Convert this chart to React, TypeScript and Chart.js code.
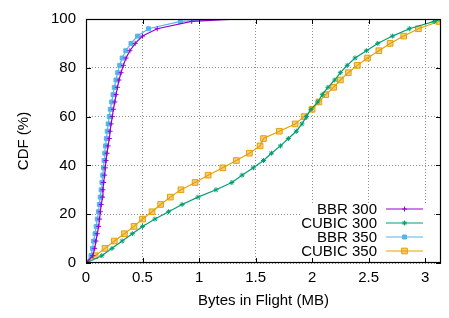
import React, { useEffect, useRef } from 'react';
import { Chart, registerables } from 'chart.js';

Chart.register(...registerables);

// CDF levels (%) shared by every series
const cdfLevels = [0, 3, 6, 9, 12, 15, 18, 21, 24, 27, 30, 33, 36, 39, 42, 45, 48, 51, 54, 57, 60, 63, 66, 69, 72, 75, 78, 81, 84, 87, 90, 93, 96, 99, 100];

// Bytes in flight (MB) at each CDF level
const bbr300 = [0, 0.06, 0.077, 0.088, 0.1, 0.112, 0.12, 0.127, 0.135, 0.147, 0.15, 0.156, 0.165, 0.171, 0.177, 0.186, 0.195, 0.206, 0.213, 0.222, 0.233, 0.242, 0.255, 0.266, 0.278, 0.292, 0.31, 0.33, 0.354, 0.388, 0.435, 0.5, 0.63, 0.935, 1.35];
const cubic300 = [0, 0.14, 0.23, 0.32, 0.41, 0.5, 0.61, 0.73, 0.85, 0.99, 1.15, 1.29, 1.38, 1.48, 1.57, 1.64, 1.72, 1.79, 1.86, 1.91, 1.95, 1.99, 2.05, 2.09, 2.14, 2.2, 2.25, 2.31, 2.38, 2.48, 2.58, 2.71, 2.86, 3.08, 3.14];
const bbr350 = [0, 0.044, 0.058, 0.067, 0.08, 0.09, 0.1, 0.11, 0.118, 0.126, 0.134, 0.141, 0.148, 0.155, 0.16, 0.166, 0.172, 0.18, 0.188, 0.196, 0.206, 0.215, 0.227, 0.239, 0.25, 0.265, 0.28, 0.298, 0.32, 0.352, 0.398, 0.456, 0.553, 0.835, 1.25];
const cubic350 = [0, 0.08, 0.168, 0.25, 0.34, 0.425, 0.5, 0.584, 0.66, 0.746, 0.84, 0.965, 1.08, 1.21, 1.33, 1.445, 1.54, 1.57, 1.71, 1.85, 1.93, 2.0, 2.06, 2.12, 2.19, 2.25, 2.32, 2.4, 2.49, 2.59, 2.69, 2.81, 2.94, 3.12, 3.14];

const seriesNames = ['BBR 300', 'CUBIC 300', 'BBR 350', 'CUBIC 350'];
const xTickValues = [0, 0.5, 1, 1.5, 2, 2.5, 3];
const yTickValues = [0, 20, 40, 60, 80, 100];
const xMax = 3.14;

const FONT = '"Liberation Sans", Arial, Helvetica, sans-serif';
const FS = 15;

type MarkerStyle = { shape: string; r: number; color: string; fill: string };

const markerStyles: MarkerStyle[] = [
  { shape: 'cross', r: 2.5, color: '#9400D3', fill: '#9400D3' },
  { shape: 'star', r: 2.5, color: '#009E73', fill: '#009E73' },
  { shape: 'rect', r: 2.8, color: '#56B4E9', fill: '#56B4E9' },
  { shape: 'rect', r: 4.0, color: '#E69F00', fill: 'rgba(230,159,0,0.5)' },
];

function drawMarker(ctx: CanvasRenderingContext2D, m: MarkerStyle, x: number, y: number) {
  ctx.save();
  ctx.strokeStyle = m.color;
  ctx.fillStyle = m.fill;
  ctx.lineWidth = 1;
  ctx.beginPath();
  if (m.shape === 'rect') {
    const s = m.r * Math.SQRT1_2;
    ctx.rect(x - s, y - s, 2 * s, 2 * s);
    ctx.fill();
    ctx.stroke();
  } else if (m.shape === 'cross') {
    ctx.moveTo(x - m.r, y);
    ctx.lineTo(x + m.r, y);
    ctx.moveTo(x, y - m.r);
    ctx.lineTo(x, y + m.r);
    ctx.stroke();
  } else {
    const d = m.r * Math.SQRT1_2;
    ctx.moveTo(x - m.r, y);
    ctx.lineTo(x + m.r, y);
    ctx.moveTo(x, y - m.r);
    ctx.lineTo(x, y + m.r);
    ctx.moveTo(x - d, y - d);
    ctx.lineTo(x + d, y + d);
    ctx.moveTo(x - d, y + d);
    ctx.lineTo(x + d, y - d);
    ctx.stroke();
  }
  ctx.restore();
}

const framePlugin = {
  id: 'gnuplotFrame',
  afterDraw(chart: any) {
    const ctx: CanvasRenderingContext2D = chart.ctx;
    const { left, right, top, bottom } = chart.chartArea;
    const xs = chart.scales.x;
    const ys = chart.scales.y;

    // legend box (opaque)
    const boxLeft = right - 140;
    const boxTop = bottom - 60;
    ctx.save();
    ctx.fillStyle = '#ffffff';
    ctx.fillRect(boxLeft, boxTop, right - 9 - boxLeft, bottom - boxTop);

    ctx.font = `${FS}px ${FONT}`;
    ctx.textAlign = 'right';
    ctx.textBaseline = 'middle';
    ctx.fillStyle = '#000';
    seriesNames.forEach((name, i) => {
      const y = bottom - 54 + i * 14;
      ctx.fillText(name, right - 64, y + 0.5);
      const m = markerStyles[i];
      ctx.strokeStyle = m.color;
      ctx.lineWidth = 1.2;
      ctx.beginPath();
      ctx.moveTo(right - 55, y);
      ctx.lineTo(right - 18, y);
      ctx.stroke();
      drawMarker(ctx, m, right - 36.5, y);
    });

    // border
    ctx.strokeStyle = '#000';
    ctx.lineWidth = 1.2;
    ctx.strokeRect(left + 0.5, top + 0.5, right - left - 1, bottom - top - 1);

    // inward ticks on all sides
    const tl = 5;
    ctx.lineWidth = 1;
    ctx.beginPath();
    xTickValues.forEach((v) => {
      const px = Math.round(xs.getPixelForValue(v)) + 0.5;
      ctx.moveTo(px, bottom);
      ctx.lineTo(px, bottom - tl);
      ctx.moveTo(px, top);
      ctx.lineTo(px, top + tl);
    });
    yTickValues.forEach((v) => {
      const py = Math.round(ys.getPixelForValue(v)) + 0.5;
      ctx.moveTo(left, py);
      ctx.lineTo(left + tl, py);
      ctx.moveTo(right, py);
      ctx.lineTo(right - tl, py);
    });
    ctx.stroke();
    ctx.restore();
  },
};

function makeDataset(i: number, xs: number[]) {
  const m = markerStyles[i];
  const last = cdfLevels.length - 1;
  return {
    label: seriesNames[i],
    data: cdfLevels.map((y, k) => ({ x: xs[k], y })),
    borderColor: m.color,
    backgroundColor: m.fill,
    borderWidth: 1.2,
    pointStyle: m.shape === 'star' ? 'star' : m.shape === 'cross' ? 'cross' : 'rect',
    pointRadius: (c: any) => (c.dataIndex === last ? 0 : m.r),
    pointBorderWidth: 1,
    pointBorderColor: m.color,
    pointBackgroundColor: m.fill,
    fill: false,
    tension: 0,
  };
}

export default function App() {
  const canvasRef = useRef<HTMLCanvasElement | null>(null);

  useEffect(() => {
    document.body.style.margin = '0';
    const canvas = canvasRef.current;
    if (!canvas) return;
    const chart = new Chart(canvas, {
      type: 'line',
      data: {
        datasets: [
          makeDataset(0, bbr300),
          makeDataset(1, cubic300),
          makeDataset(2, bbr350),
          makeDataset(3, cubic350),
        ] as any,
      },
      options: {
        animation: false,
        responsive: false,
        devicePixelRatio: 1,
        layout: { padding: { top: 6, right: 8, left: 0, bottom: 0 } },
        plugins: {
          legend: { display: false },
          tooltip: { enabled: false },
        },
        scales: {
          x: {
            type: 'linear',
            min: 0,
            max: xMax,
            afterFit: (s: any) => {
              s.height = 55;
            },
            afterBuildTicks: (s: any) => {
              s.ticks = xTickValues.map((v) => ({ value: v }));
            },
            ticks: {
              padding: 6,
              maxRotation: 0,
              autoSkip: false,
              color: '#000',
              font: { family: FONT, size: FS },
              callback: (v: any) => String(v),
            },
            grid: { color: '#8f8f8f', lineWidth: 1, drawTicks: false },
            border: { display: false, dash: [1, 2] },
            title: {
              display: true,
              text: 'Bytes in Flight (MB)',
              color: '#000',
              font: { family: FONT, size: FS },
              padding: { top: 0, bottom: 8 },
            },
          },
          y: {
            type: 'linear',
            min: 0,
            max: 100,
            afterFit: (s: any) => {
              s.width = 86;
            },
            afterBuildTicks: (s: any) => {
              s.ticks = yTickValues.map((v) => ({ value: v }));
            },
            ticks: {
              padding: 10,
              color: '#000',
              font: { family: FONT, size: FS },
              callback: (v: any) => String(v),
            },
            grid: { color: '#8f8f8f', lineWidth: 1, drawTicks: false },
            border: { display: false, dash: [1, 2] },
            title: {
              display: true,
              text: 'CDF (%)',
              color: '#000',
              font: { family: FONT, size: FS },
              padding: { top: 15, bottom: 0 },
            },
          },
        },
      },
      plugins: [framePlugin],
    });
    return () => chart.destroy();
  }, []);

  return (
    <div style={{ width: 449, height: 318, position: 'relative' }}>
      <canvas ref={canvasRef} width={449} height={318} style={{ display: 'block' }} />
    </div>
  );
}
